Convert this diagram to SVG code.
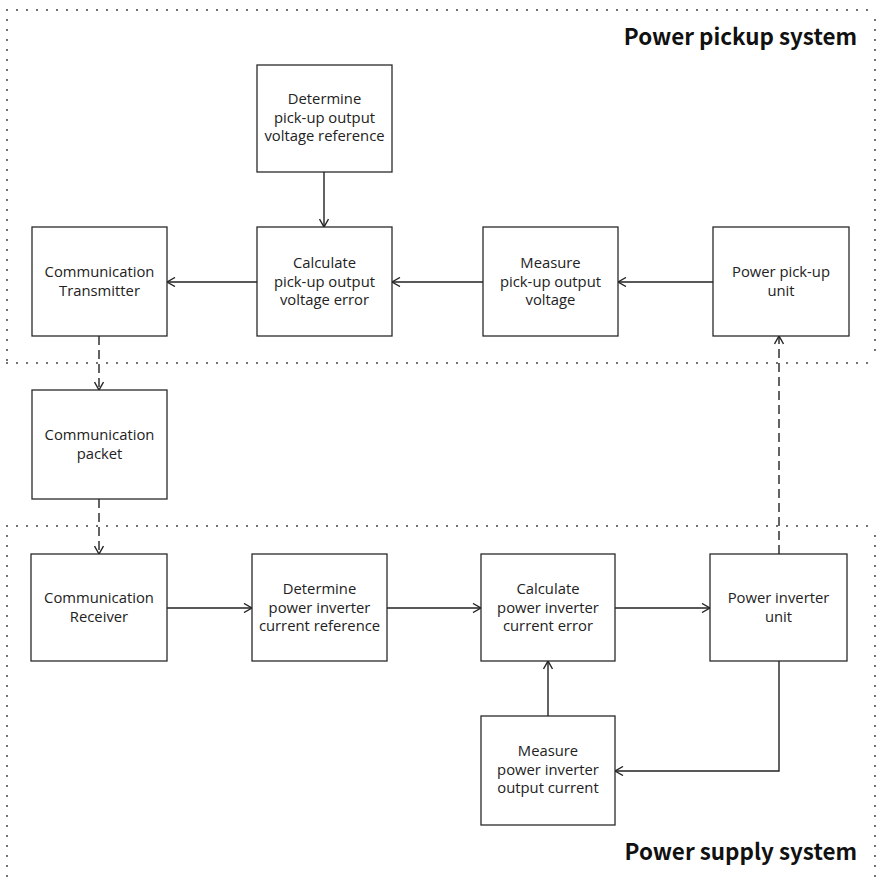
<svg xmlns="http://www.w3.org/2000/svg" width="876" height="878" viewBox="0 0 876 878">
<defs>
<style>
.box{fill:#fff;stroke:#2a2a2a;stroke-width:1.3}
.t{font-family:"Open Sans","Noto Sans",sans-serif;font-size:14.8px;fill:#222;text-anchor:middle}
.title{font-family:"Noto Sans CJK KR","Noto Sans",sans-serif;font-size:22.4px;font-weight:bold;fill:#111;text-anchor:end}
.dot{fill:none;stroke:#444;stroke-width:2;stroke-linecap:round;stroke-dasharray:0 10}
.c{fill:none;stroke:#222;stroke-width:1.4;marker-end:url(#ah)}
.d{fill:none;stroke:#222;stroke-width:1.4;stroke-dasharray:9 5;marker-end:url(#ah)}
</style>
<marker id="ah" viewBox="0 0 10 10" refX="10" refY="5" markerWidth="10" markerHeight="10" markerUnits="userSpaceOnUse" orient="auto">
<path d="M2,0.5 L10,5 L2,9.5" fill="none" stroke="#222" stroke-width="1.4"/>
</marker>
</defs>
<rect width="876" height="878" fill="#fff"/>
<g id="regions">
<path class="dot" d="M7,10 H876 M7,10 V363 M7,363 H876 M875,20 V360"/>
<path class="dot" d="M7,526 H876 M7,526 V878 M875,536 V878"/>
<text class="title" x="857" y="45">Power pickup system</text>
<text class="title" x="857" y="860">Power supply system</text>
</g>
<g id="connectors">
<path class="c" d="M324,172 V227"/>
<path class="c" d="M257,282 H167"/>
<path class="c" d="M483,282 H392"/>
<path class="c" d="M713,282 H618"/>
<path class="d" d="M99,336 V390"/>
<path class="d" d="M99,499 V554"/>
<path class="d" d="M779,554 V336"/>
<path class="c" d="M167,608 H252"/>
<path class="c" d="M387,608 H481"/>
<path class="c" d="M615,608 H710"/>
<path class="c" d="M548,716 V661"/>
<path class="c" d="M779,661 V771 H615"/>
</g>
<g id="n1"><rect class="box" x="257" y="65" width="135" height="107"/><text class="t" x="324.5" y="104">Determine</text><text class="t" x="324.5" y="122.5">pick-up output</text><text class="t" x="324.5" y="141">voltage reference</text></g>
<g id="n2"><rect class="box" x="32" y="227" width="135" height="109"/><text class="t" x="99.5" y="277">Communication</text><text class="t" x="99.5" y="296">Transmitter</text></g>
<g id="n3"><rect class="box" x="257" y="227" width="135" height="109"/><text class="t" x="324.5" y="268">Calculate</text><text class="t" x="324.5" y="286.5">pick-up output</text><text class="t" x="324.5" y="305">voltage error</text></g>
<g id="n4"><rect class="box" x="483" y="227" width="135" height="109"/><text class="t" x="550.5" y="268">Measure</text><text class="t" x="550.5" y="286.5">pick-up output</text><text class="t" x="550.5" y="305">voltage</text></g>
<g id="n5"><rect class="box" x="713" y="227" width="136" height="109"/><text class="t" x="781" y="277">Power pick-up</text><text class="t" x="781" y="296">unit</text></g>
<g id="n6"><rect class="box" x="32" y="390" width="135" height="109"/><text class="t" x="99.5" y="440">Communication</text><text class="t" x="99.5" y="459">packet</text></g>
<g id="n7"><rect class="box" x="31" y="554" width="136" height="107"/><text class="t" x="99" y="603">Communication</text><text class="t" x="99" y="622">Receiver</text></g>
<g id="n8"><rect class="box" x="252" y="554" width="135" height="107"/><text class="t" x="319.5" y="594">Determine</text><text class="t" x="319.5" y="612.5">power inverter</text><text class="t" x="319.5" y="631">current reference</text></g>
<g id="n9"><rect class="box" x="481" y="554" width="134" height="107"/><text class="t" x="548" y="594">Calculate</text><text class="t" x="548" y="612.5">power inverter</text><text class="t" x="548" y="631">current error</text></g>
<g id="n10"><rect class="box" x="710" y="554" width="137" height="107"/><text class="t" x="778.5" y="603">Power inverter</text><text class="t" x="778.5" y="622">unit</text></g>
<g id="n11"><rect class="box" x="481" y="716" width="134" height="109"/><text class="t" x="548" y="756">Measure</text><text class="t" x="548" y="774.5">power inverter</text><text class="t" x="548" y="793">output current</text></g>
</svg>
